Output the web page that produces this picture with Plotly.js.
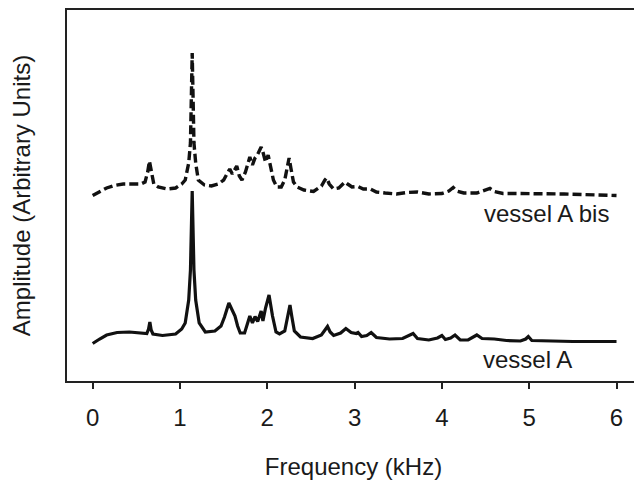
<!DOCTYPE html>
<html>
<head>
<meta charset="utf-8">
<script src="https://cdn.plot.ly/plotly-3.0.1.min.js"></script>
<style>html,body{margin:0;padding:0;overflow:hidden;background:#fff;}#chart{width:640px;height:480px;}</style>
</head>
<body>
<div id="chart"></div>
<script>
// Frequency (kHz) and amplitude (arbitrary units)
const freqBis = [0.00,0.08,0.16,0.25,0.35,0.45,0.55,0.60,0.63,0.65,0.67,0.70,0.75,0.85,0.95,1.02,1.06,1.10,1.12,1.14,1.16,1.18,1.21,1.28,1.36,1.44,1.50,1.55,1.57,1.60,1.63,1.65,1.68,1.71,1.75,1.78,1.80,1.83,1.86,1.88,1.90,1.93,1.95,1.98,2.01,2.04,2.07,2.11,2.16,2.20,2.23,2.25,2.27,2.30,2.34,2.42,2.53,2.62,2.66,2.68,2.71,2.76,2.82,2.87,2.89,2.92,2.97,3.04,3.10,3.18,3.25,3.35,3.48,3.60,3.72,3.85,4.00,4.08,4.13,4.17,4.25,4.40,4.50,4.55,4.60,4.70,4.85,5.00,5.20,5.40,5.60,5.80,6.00];
const ampBis = [185.5,189,193,195.5,197,197,197,199,209,220,209,197,194,192,193,197,201,218,238,328,238,218,201,196,195,197,201,209,212,207,211,215,205,201,209,219,224,216,223,225,228,234,229,219,226,215,201,194,194,201,213,223,213,199,194,191,189.5,195,201,203,197,192,193,198,199,197,194,194.5,192,192,189,188,187,188.5,189,187,187.5,190,193.5,190,188,188,190.5,192.5,189.5,187.5,187.5,187.5,187.5,187,186.5,186,185.5];

const freqA = [0.00,0.04,0.08,0.16,0.28,0.42,0.55,0.62,0.64,0.655,0.67,0.69,0.80,0.95,1.02,1.06,1.10,1.12,1.14,1.16,1.18,1.22,1.29,1.40,1.47,1.51,1.56,1.60,1.63,1.66,1.69,1.74,1.78,1.80,1.83,1.86,1.89,1.93,1.95,1.98,2.02,2.06,2.10,2.14,2.20,2.24,2.26,2.28,2.31,2.38,2.52,2.62,2.66,2.69,2.72,2.76,2.84,2.90,2.96,3.02,3.04,3.08,3.14,3.19,3.25,3.40,3.55,3.63,3.67,3.72,3.85,3.95,4.00,4.04,4.10,4.15,4.21,4.30,4.36,4.40,4.46,4.60,4.74,4.90,4.96,4.99,5.03,5.20,5.50,5.80,6.00];
const ampA = [37.5,40,42,46,48.5,49,48,47.5,52,59,51,47,45.5,47,52,58,81,111,190,111,81,58,49,50,55,64,78,71,65,55,48,48,59,65,58,64.5,59.5,70,60,73,86,65,49,47,50,66,76,65,50,44,42.5,46,51,54.5,49,45.5,48,52.5,48.5,47.5,48.5,44.5,45.5,48.5,43.5,42,42.5,45.5,47.5,42.5,41,43,45.5,41.5,43,46,41,41,43.5,46,42.5,42,40.5,40,42,44.5,40.5,40,39.5,39.5,39.5];

const xTickVals = [0,1,2,3,4,5,6];
const xTickText = ['0','1','2','3','4','5','6'];
const labels = ['vessel A bis','vessel A'];

const traces = [
  {x: freqBis, y: ampBis, type: 'scatter', mode: 'lines', name: labels[0],
   line: {color: '#111', width: 3.4, dash: '9px,4px'}},
  {x: freqA, y: ampA, type: 'scatter', mode: 'lines', name: labels[1],
   line: {color: '#111', width: 3.2}}
];

const font = {family: 'Liberation Sans, Arial, sans-serif', color: '#1a1a1a', size: 24};

const layout = {
  width: 640, height: 480,
  margin: {l: 67, r: 0, t: 10, b: 99},
  paper_bgcolor: '#fff', plot_bgcolor: '#fff',
  showlegend: false,
  font: font,
  xaxis: {
    range: [-0.294, 6.269],
    tickvals: xTickVals, ticktext: xTickText,
    ticks: 'outside', ticklen: 6, tickwidth: 2, tickcolor: '#222',
    ticklabelstandoff: 8,
    showline: true, linecolor: '#222', linewidth: 2, mirror: true,
    showgrid: false, zeroline: false,
    tickfont: {family: font.family, size: 24, color: '#1a1a1a'},
    title: {text: 'Frequency (kHz)', font: {family: font.family, size: 24, color: '#1a1a1a'}, standoff: 28}
  },
  yaxis: {
    range: [0, 371],
    showticklabels: false, ticks: '',
    showline: true, linecolor: '#222', linewidth: 2, mirror: true,
    showgrid: false, zeroline: false,
    title: {text: 'Amplitude (Arbitrary Units)', font: {family: font.family, size: 24, color: '#1a1a1a'}, standoff: 28}
  },
  annotations: [
    {x: 5.20, y: 168, text: labels[0], showarrow: false, xanchor: 'center', yanchor: 'middle',
     font: {family: font.family, size: 24, color: '#1a1a1a'}},
    {x: 4.98, y: 22, text: labels[1], showarrow: false, xanchor: 'center', yanchor: 'middle',
     font: {family: font.family, size: 24, color: '#1a1a1a'}}
  ]
};

Plotly.newPlot('chart', traces, layout, {displayModeBar: false, staticPlot: true});
</script>
</body>
</html>
